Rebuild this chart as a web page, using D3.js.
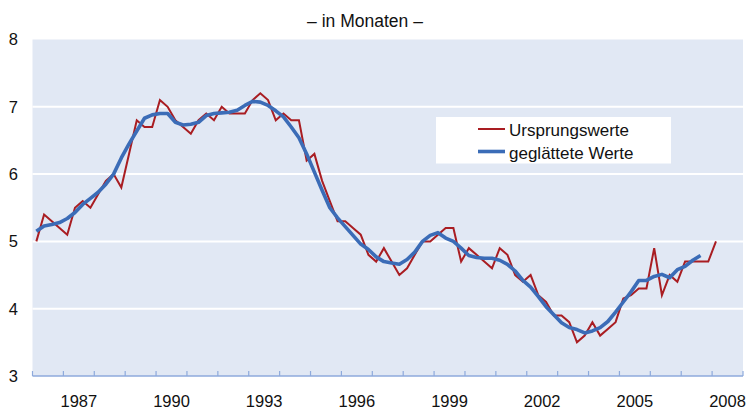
<!DOCTYPE html>
<html>
<head>
<meta charset="utf-8">
<script src="https://cdn.jsdelivr.net/npm/d3@7"></script>
<style>
  body { margin: 0; background: #fff; }
  text { font-family: "Liberation Sans", Arial, sans-serif; fill: #111; }
</style>
</head>
<body>
<svg id="chart" width="751" height="410"></svg>
<script>
// quarterly series, first value = 1986 Q1
const startYear = 1986;
const ursprungswerte = [
  5.0, 5.4, 5.3, 5.2, 5.1, 5.5, 5.6, 5.5, 5.7, 5.9, 6.0, 5.8, 6.3, 6.8, 6.7, 6.7,
  7.1, 7.0, 6.8, 6.7, 6.6, 6.8, 6.9, 6.8, 7.0, 6.9, 6.9, 6.9, 7.1, 7.2, 7.1, 6.8,
  6.9, 6.8, 6.8, 6.2, 6.3, 5.9, 5.6, 5.3, 5.3, 5.2, 5.1, 4.8, 4.7, 4.9, 4.7, 4.5,
  4.6, 4.8, 5.0, 5.0, 5.1, 5.2, 5.2, 4.7, 4.9, 4.8, 4.7, 4.6, 4.9, 4.8, 4.5, 4.4,
  4.5, 4.2, 4.1, 3.9, 3.9, 3.8, 3.5, 3.6, 3.8, 3.6, 3.7, 3.8, 4.15, 4.2, 4.3, 4.3,
  4.9, 4.2, 4.5, 4.4, 4.7, 4.7, 4.7, 4.7, 5.0
];
const geglaetteteWerte = [
  5.15, 5.23, 5.25, 5.28, 5.34, 5.43, 5.55, 5.64, 5.73, 5.85, 6.0, 6.24, 6.45, 6.64, 6.83, 6.88,
  6.9, 6.9, 6.77, 6.73, 6.74, 6.77, 6.87, 6.9, 6.91, 6.92, 6.95, 7.02, 7.08, 7.07, 7.02, 6.94,
  6.85, 6.7, 6.54, 6.3, 6.03, 5.76, 5.5, 5.35, 5.22, 5.09, 4.96, 4.88, 4.77, 4.7, 4.68, 4.66,
  4.73, 4.84, 5.0, 5.09, 5.13, 5.05, 5.0, 4.9, 4.79, 4.76, 4.75, 4.75, 4.72, 4.66, 4.56, 4.42,
  4.32, 4.18, 4.03, 3.91, 3.79, 3.72, 3.69, 3.64, 3.67, 3.72, 3.81, 3.95, 4.1, 4.25, 4.42, 4.42,
  4.48, 4.51, 4.46, 4.58, 4.63, 4.72, 4.79
];
const tickYears = [1987, 1990, 1993, 1996, 1999, 2002, 2005, 2008];
const yTicks = [3, 4, 5, 6, 7, 8];
const title = "– in Monaten –";
const legendLabels = ["Ursprungswerte", "geglättete Werte"];
const colors = ["#a91d22", "#3b6cb7"];

const svg = d3.select("#chart");
const plotLeft = 32.5, plotRight = 743, plotTop = 39.5, plotBottom = 376;

const x = d3.scaleLinear().domain([startYear, 2009]).range([plotLeft, plotRight]);
const y = d3.scaleLinear().domain([3, 8]).range([plotBottom, plotTop]);

// plot background
svg.append("rect")
  .attr("x", plotLeft).attr("y", plotTop)
  .attr("width", plotRight - plotLeft).attr("height", plotBottom - plotTop)
  .attr("fill", "#e1e8f4");

// white gridlines
svg.selectAll("line.grid")
  .data(yTicks.filter(d => d > 3 && d < 8))
  .join("line")
  .attr("class", "grid")
  .attr("x1", plotLeft).attr("x2", plotRight)
  .attr("y1", d => y(d)).attr("y2", d => y(d))
  .attr("stroke", "#fff").attr("stroke-width", 2);

// y labels
svg.selectAll("text.ylab")
  .data(yTicks)
  .join("text")
  .attr("class", "ylab")
  .attr("x", 18).attr("y", d => y(d))
  .attr("dy", "0.36em")
  .attr("text-anchor", "end")
  .attr("font-size", 16.5)
  .text(d => d);

// x axis: line + inward ticks at each year boundary
const allYears = d3.range(startYear, 2010);
svg.append("line")
  .attr("x1", plotLeft).attr("x2", plotRight)
  .attr("y1", plotBottom).attr("y2", plotBottom)
  .attr("stroke", "#8eaadc").attr("stroke-width", 1.5);
svg.selectAll("line.xtick")
  .data(allYears)
  .join("line")
  .attr("class", "xtick")
  .attr("x1", d => x(d)).attr("x2", d => x(d))
  .attr("y1", plotBottom).attr("y2", plotBottom - 5)
  .attr("stroke", "#8eaadc").attr("stroke-width", 1.2);
svg.selectAll("text.xlab")
  .data(tickYears)
  .join("text")
  .attr("class", "xlab")
  .attr("x", d => x(d + 0.5)).attr("y", 407)
  .attr("text-anchor", "middle")
  .attr("font-size", 16.5)
  .text(d => d);

// title
svg.append("text")
  .attr("x", 365).attr("y", 27)
  .attr("text-anchor", "middle")
  .attr("font-size", 17.5)
  .text(title);

// lines
const qx = i => x(startYear + (i + 0.5) / 4);
const line = d3.line().x((d, i) => qx(i)).y(d => y(d));

svg.append("path")
  .datum(ursprungswerte)
  .attr("d", line)
  .attr("fill", "none")
  .attr("stroke", colors[0]).attr("stroke-width", 2)
  .attr("stroke-linejoin", "miter");

svg.append("path")
  .datum(geglaetteteWerte)
  .attr("d", line)
  .attr("fill", "none")
  .attr("stroke", colors[1]).attr("stroke-width", 3.6)
  .attr("stroke-linejoin", "round");

// legend
const lg = svg.append("g");
lg.append("rect")
  .attr("x", 436).attr("y", 117)
  .attr("width", 235).attr("height", 46.5)
  .attr("fill", "#fff");
legendLabels.forEach((lab, k) => {
  const ly = 129 + k * 22.5;
  lg.append("line")
    .attr("x1", 478).attr("x2", 505)
    .attr("y1", ly).attr("y2", ly)
    .attr("stroke", colors[k]).attr("stroke-width", k === 0 ? 2 : 3.6);
  lg.append("text")
    .attr("x", 509).attr("y", ly + 7)
    .attr("font-size", 17)
    .text(lab);
});
</script>
</body>
</html>
